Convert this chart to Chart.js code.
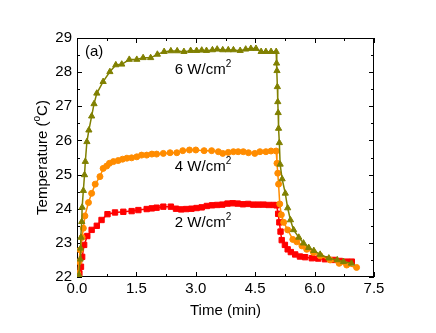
<!DOCTYPE html>
<html>
<head>
<meta charset="utf-8">
<script src="https://cdn.jsdelivr.net/npm/chart.js@4/dist/chart.umd.min.js"></script>
<style>
  body { margin: 0; background: #fff; }
  #wrap { width: 436px; height: 333px; }
</style>
</head>
<body>
<div id="wrap"><canvas id="chart" width="436" height="333"></canvas></div>
<script>
// data (time in min, temperature in degC)
const time2W = [0.04, 0.06, 0.10, 0.13, 0.18, 0.26, 0.37, 0.50, 0.62, 0.77, 0.96, 1.17, 1.38, 1.55, 1.76, 1.89, 2.01, 2.18, 2.37, 2.50, 2.63, 2.76, 2.89, 3.02, 3.15, 3.28, 3.41, 3.54, 3.67, 3.80, 3.93, 4.06, 4.19, 4.32, 4.45, 4.58, 4.71, 4.84, 4.97, 5.04, 5.08, 5.11, 5.14, 5.17, 5.25, 5.32, 5.40, 5.51, 5.63, 5.76, 5.93, 6.09, 6.26, 6.47, 6.64, 6.81, 6.94];
const temp2W = [22.00, 22.11, 22.30, 22.59, 22.94, 23.20, 23.38, 23.50, 23.67, 23.84, 23.89, 23.91, 23.93, 23.96, 23.99, 24.01, 24.03, 24.06, 24.06, 24.00, 23.98, 23.99, 24.00, 24.02, 24.04, 24.08, 24.10, 24.11, 24.12, 24.15, 24.16, 24.15, 24.13, 24.14, 24.12, 24.12, 24.12, 24.11, 24.11, 24.10, 23.85, 23.60, 23.33, 23.08, 22.94, 22.81, 22.73, 22.66, 22.60, 22.58, 22.55, 22.54, 22.52, 22.50, 22.47, 22.45, 22.45];

const time4W = [0.02, 0.05, 0.08, 0.13, 0.16, 0.20, 0.29, 0.37, 0.46, 0.58, 0.66, 0.75, 0.82, 0.92, 1.04, 1.15, 1.26, 1.38, 1.51, 1.63, 1.76, 1.89, 2.01, 2.18, 2.35, 2.52, 2.67, 2.84, 3.00, 3.21, 3.40, 3.57, 3.68, 3.82, 3.95, 4.07, 4.20, 4.33, 4.49, 4.62, 4.77, 4.90, 5.03, 5.05, 5.07, 5.09, 5.12, 5.16, 5.22, 5.32, 5.45, 5.55, 5.68, 5.80, 5.97, 6.14, 6.39, 6.62, 6.81, 7.06];
const temp4W = [22.10, 22.45, 22.79, 23.16, 23.43, 23.79, 24.18, 24.45, 24.72, 24.94, 25.18, 25.25, 25.33, 25.38, 25.41, 25.45, 25.48, 25.49, 25.52, 25.57, 25.57, 25.60, 25.60, 25.62, 25.64, 25.64, 25.70, 25.72, 25.72, 25.70, 25.70, 25.67, 25.62, 25.65, 25.67, 25.67, 25.67, 25.64, 25.62, 25.67, 25.67, 25.69, 25.69, 25.33, 25.04, 24.72, 24.14, 23.82, 23.60, 23.38, 23.10, 23.03, 22.91, 22.81, 22.72, 22.62, 22.50, 22.40, 22.35, 22.28];

const time6W = [0.05, 0.08, 0.09, 0.10, 0.12, 0.13, 0.16, 0.19, 0.21, 0.25, 0.30, 0.37, 0.43, 0.50, 0.66, 0.83, 0.98, 1.13, 1.32, 1.51, 1.67, 1.86, 2.03, 2.20, 2.37, 2.53, 2.70, 2.87, 3.02, 3.15, 3.27, 3.42, 3.54, 3.68, 3.82, 3.95, 4.12, 4.26, 4.39, 4.52, 4.65, 4.77, 4.90, 5.03, 5.04, 5.05, 5.06, 5.07, 5.08, 5.09, 5.11, 5.13, 5.18, 5.26, 5.32, 5.39, 5.47, 5.60, 5.72, 5.85, 5.98, 6.14, 6.36, 6.57, 6.73, 6.93];
const temp6W = [22.06, 22.52, 22.84, 23.16, 23.62, 24.04, 24.53, 24.99, 25.38, 25.96, 26.30, 26.71, 27.07, 27.38, 27.72, 28.01, 28.21, 28.23, 28.37, 28.37, 28.42, 28.42, 28.52, 28.60, 28.62, 28.62, 28.60, 28.63, 28.63, 28.64, 28.63, 28.65, 28.67, 28.65, 28.65, 28.65, 28.63, 28.67, 28.69, 28.69, 28.60, 28.60, 28.60, 28.60, 28.26, 28.04, 27.57, 27.13, 26.81, 26.35, 25.93, 25.30, 24.87, 24.45, 24.02, 23.67, 23.38, 23.16, 22.99, 22.86, 22.77, 22.66, 22.55, 22.50, 22.45, 22.40];

const xTicks = [0, 1.5, 3.0, 4.5, 6.0, 7.5];
const yTicks = [22, 23, 24, 25, 26, 27, 28, 29];

const FONT = "'Liberation Sans', Arial, sans-serif";

function toPoints(xs, ys) {
  return xs.map((x, i) => ({ x: x, y: ys[i] }));
}

function series(label, xs, ys, color, style, radius) {
  return {
    label: label,
    data: toPoints(xs, ys),
    showLine: true,
    borderColor: color,
    backgroundColor: color,
    borderWidth: 1.5,
    pointStyle: style,
    pointRadius: radius,
    pointBorderWidth: 1,
    pointBackgroundColor: color,
    pointBorderColor: color,
    tension: 0,
  };
}

// frame + inward ticks on all four sides
const frameTicks = {
  id: "frameTicks",
  beforeDatasetsDraw(chart) {
    const { ctx, chartArea: a, scales } = chart;
    const xs = scales.x, ys = scales.y;
    ctx.save();
    ctx.strokeStyle = "#000";
    ctx.lineWidth = 1;
    ctx.strokeRect(a.left + 0.5, a.top + 0.5, a.right - a.left - 1, a.bottom - a.top - 1);
    ctx.beginPath();
    const xMinor = xTicks.slice(1).map((v, i) => (v + xTicks[i]) / 2);
    const yMinor = yTicks.slice(1).map((v, i) => (v + yTicks[i]) / 2);
    const tickX = (v, len) => {
      const p = Math.round(xs.getPixelForValue(v)) + 0.5;
      ctx.moveTo(p, a.bottom); ctx.lineTo(p, a.bottom - len);
      ctx.moveTo(p, a.top); ctx.lineTo(p, a.top + len);
    };
    const tickY = (v, len) => {
      const p = Math.round(ys.getPixelForValue(v)) + 0.5;
      ctx.moveTo(a.left, p); ctx.lineTo(a.left + len, p);
      ctx.moveTo(a.right, p); ctx.lineTo(a.right - len, p);
    };
    xTicks.forEach(v => tickX(v, 5));
    xMinor.forEach(v => tickX(v, 3));
    yTicks.forEach(v => tickY(v, 5));
    yMinor.forEach(v => tickY(v, 3));
    ctx.stroke();
    ctx.restore();
  },
};

// text with a superscript part, drawn at (x, y) baseline, left aligned
function supText(ctx, x, y, base, sup, tail, size) {
  ctx.font = size + "px " + FONT;
  ctx.fillText(base, x, y);
  let w = ctx.measureText(base).width;
  ctx.font = Math.round(size * 0.65) + "px " + FONT;
  ctx.fillText(sup, x + w, y - size * 0.45);
  w += ctx.measureText(sup).width;
  if (tail) {
    ctx.font = size + "px " + FONT;
    ctx.fillText(tail, x + w, y);
  }
}

function supWidth(ctx, base, sup, tail, size) {
  ctx.font = size + "px " + FONT;
  let w = ctx.measureText(base).width + ctx.measureText(tail).width;
  ctx.font = Math.round(size * 0.65) + "px " + FONT;
  return w + ctx.measureText(sup).width;
}

const labels = {
  id: "labels",
  afterDraw(chart) {
    const { ctx, chartArea: a, scales } = chart;
    const xs = scales.x, ys = scales.y;
    ctx.save();
    ctx.fillStyle = "#000";
    ctx.textBaseline = "alphabetic";
    ctx.textAlign = "left";
    ctx.font = "15px " + FONT;
    ctx.fillText("(a)", xs.getPixelForValue(0.2), ys.getPixelForValue(28.46));
    supText(ctx, xs.getPixelForValue(2.47), ys.getPixelForValue(27.96), "6 W/cm", "2", "", 15);
    supText(ctx, xs.getPixelForValue(2.47), ys.getPixelForValue(25.11), "4 W/cm", "2", "", 15);
    supText(ctx, xs.getPixelForValue(2.47), ys.getPixelForValue(23.46), "2 W/cm", "2", "", 15);

    // y axis title, rotated
    const w = supWidth(ctx, "Temperature (", "o", "C)", 15);
    ctx.translate(47, (a.top + a.bottom) / 2);
    ctx.rotate(-Math.PI / 2);
    supText(ctx, -w / 2, 0, "Temperature (", "o", "C)", 15);
    ctx.restore();
  },
};

new Chart(document.getElementById("chart"), {
  type: "scatter",
  data: {
    datasets: [
      series("6 W/cm2", time6W, temp6W, "#808000", "triangle", 3.6),
      series("4 W/cm2", time4W, temp4W, "#FF8C00", "circle", 3),
      series("2 W/cm2", time2W, temp2W, "#FF0000", "rect", 3.8),
    ],
  },
  options: {
    responsive: false,
    animation: false,
    layout: { padding: { left: 0, top: 38, right: 62, bottom: 0 } },
    plugins: {
      legend: { display: false },
      tooltip: { enabled: false },
    },
    scales: {
      x: {
        type: "linear",
        min: 0,
        max: 7.5,
        afterBuildTicks: (scale) => { scale.ticks = xTicks.map(v => ({ value: v })); },
        afterFit: (scale) => { scale.height = 56; },
        grid: { display: false, drawTicks: false },
        border: { display: false },
        ticks: {
          autoSkip: false,
          maxRotation: 0,
          padding: 3,
          color: "#000",
          font: { family: FONT, size: 15 },
          callback: (v) => Number(v).toFixed(1),
        },
        title: {
          display: true,
          text: "Time (min)",
          color: "#000",
          font: { family: FONT, size: 15 },
          padding: { top: 0, bottom: 13 },
        },
      },
      y: {
        type: "linear",
        min: 22,
        max: 29,
        afterBuildTicks: (scale) => { scale.ticks = yTicks.map(v => ({ value: v })); },
        afterFit: (scale) => { scale.width = 77; },
        grid: { display: false, drawTicks: false },
        border: { display: false },
        ticks: {
          autoSkip: false,
          padding: 5,
          color: "#000",
          font: { family: FONT, size: 15 },
        },
      },
    },
  },
  plugins: [frameTicks, labels],
});
</script>
</body>
</html>
